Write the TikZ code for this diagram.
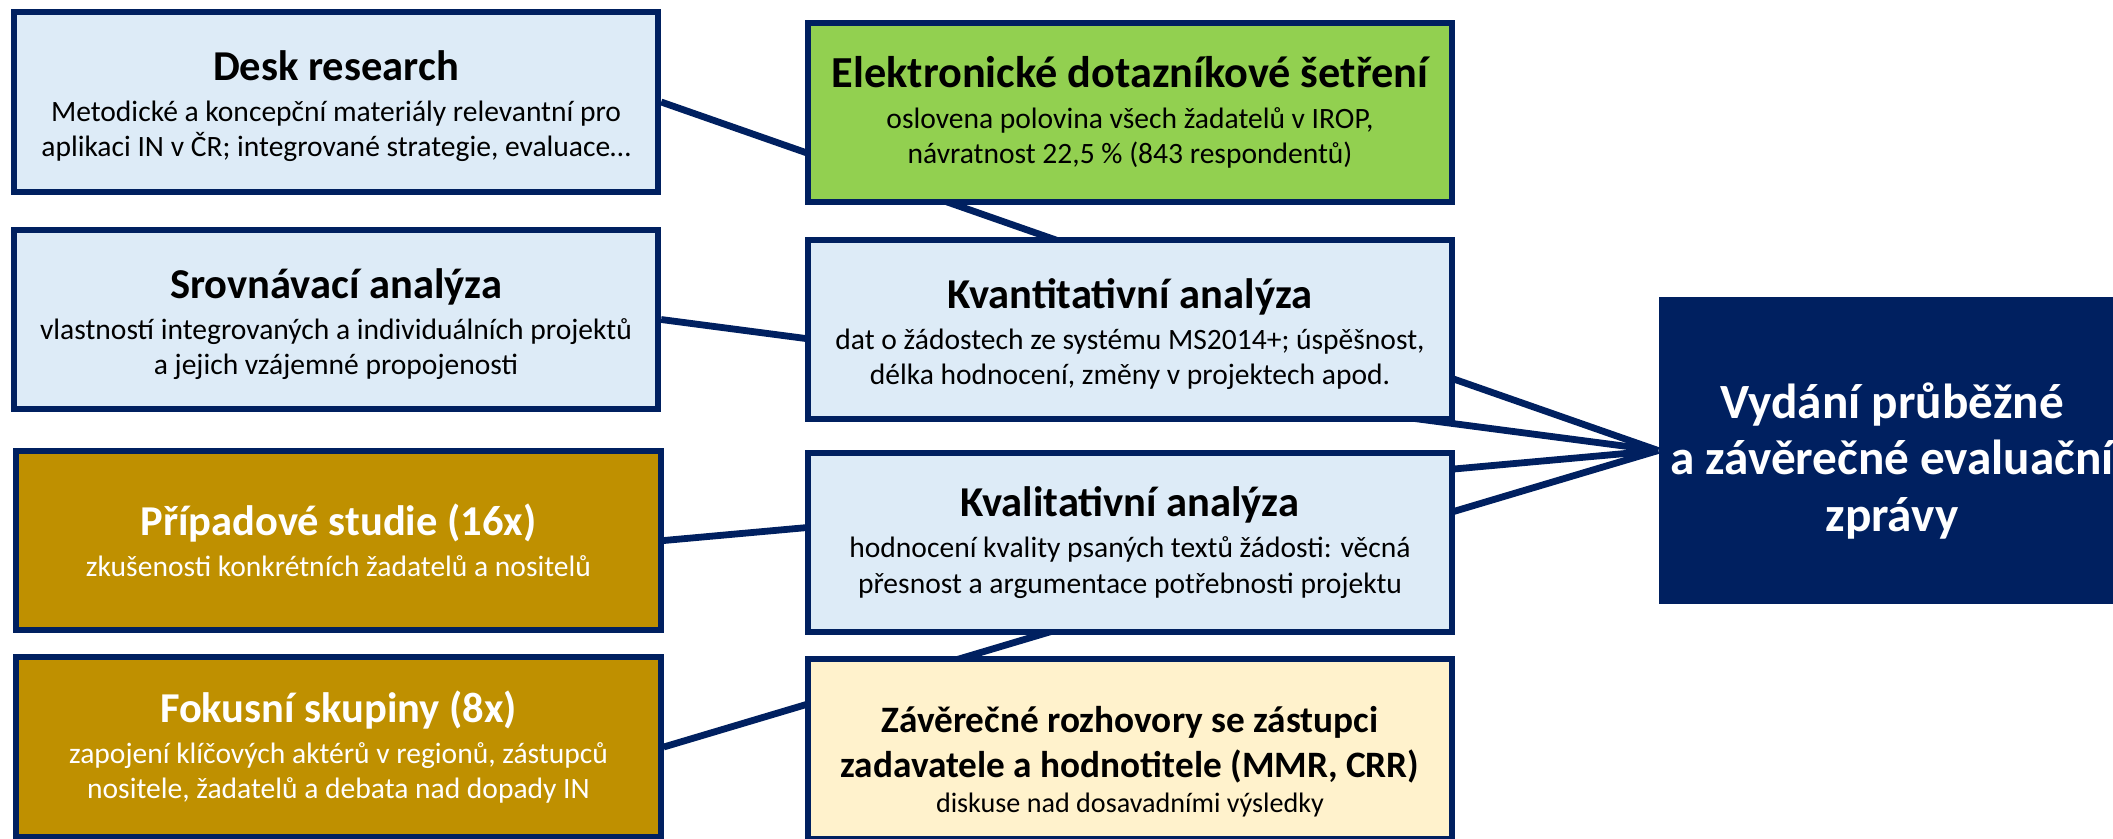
\documentclass[tikz,border=0pt]{standalone}
\usepackage{fontspec}
\setmainfont{Carlito}
\definecolor{navy}{HTML}{002060}
\definecolor{lblue}{HTML}{DDEBF7}
\definecolor{lgreen}{HTML}{92D050}
\definecolor{gold}{HTML}{BF9000}
\definecolor{lyellow}{HTML}{FFF2CC}
\newcommand{\boxtitle}[1]{{\fontsize{12.1}{14}\selectfont\bfseries #1}}
\newcommand{\bigtitle}[1]{{\fontsize{12.6}{14}\selectfont\bfseries #1}}
\newcommand{\subtitle}[1]{{\fontsize{10.6}{12.8}\selectfont\bfseries #1}}
\newcommand{\smallbody}[1]{{\fontsize{8}{10}\selectfont #1}}
\tikzset{
  box/.style={draw=navy, line width=0.06cm, align=center, inner sep=0pt,
    font=\fontsize{8.4}{10}\selectfont, minimum width=6.44cm, minimum height=1.79cm},
  bluebox/.style={box, fill=lblue, text=black},
  greenbox/.style={box, fill=lgreen, text=black},
  goldbox/.style={box, fill=gold, text=white},
  yellowbox/.style={box, fill=lyellow, text=black},
  finalbox/.style={fill=navy, text=white, align=center, inner sep=0pt,
    minimum width=4.66cm, minimum height=3.07cm,
    font=\fontsize{14}{16}\selectfont\bfseries},
  conn/.style={draw=navy, line width=0.068cm}
}
\begin{document}
\begin{tikzpicture}[x=0.01cm, y=-0.01cm]
\useasboundingbox (0,0) rectangle (2113,838);
\fill[white] (0,0) rectangle (2113,838);

% left column
\node[bluebox] (desk) at (336,102) {\rule{0pt}{11pt}\boxtitle{Desk research}\\[1.7pt]Metodické a koncepční materiály relevantní pro\\aplikaci IN v ČR; integrované strategie, evaluace…};
\node[bluebox] (srov) at (336,319.5) {\rule{0pt}{11pt}\boxtitle{Srovnávací analýza}\\[1.7pt]vlastností integrovaných a individuálních projektů\\a jejich vzájemné propojenosti};
\node[goldbox] (prip) at (338.5,540.5) {\boxtitle{Případové studie (16x)}\\[1.7pt]zkušenosti konkrétních žadatelů a nositelů};
\node[goldbox] (fok) at (338.5,747) {\boxtitle{Fokusní skupiny (8x)}\\[1.7pt]zapojení klíčových aktérů v regionů, zástupců\\nositele, žadatelů a debata nad dopady IN};

% final box
\node[finalbox] (vyd) at (1892,450.5) {\rule{0pt}{16pt}Vydání průběžné\\a závěrečné evaluační\\zprávy};

% connectors
\draw[conn] (desk.east) -- (vyd.west);
\draw[conn] (srov.east) -- (vyd.west);
\draw[conn] (prip.east) -- (vyd.west);
\draw[conn] (fok.east) -- (vyd.west);

% middle column
\node[greenbox] (elek) at (1130,112.5) {\bigtitle{Elektronické dotazníkové šetření}\\[1.7pt]oslovena polovina všech žadatelů v IROP,\\návratnost 22,5 \% (843 respondentů)};
\node[bluebox] (kvant) at (1130,329.5) {\rule{0pt}{11pt}\boxtitle{Kvantitativní analýza}\\[1.7pt]dat o žádostech ze systému MS2014+; úspěšnost,\\délka hodnocení, změny v projektech apod.};
\node[bluebox] (kval) at (1130,542.5) {\boxtitle{Kvalitativní analýza}\\[1.7pt]hodnocení kvality psaných textů žádosti: věcná\\přesnost a argumentace potřebnosti projektu};
\node[yellowbox] (zav) at (1130,749) {\rule{0pt}{14.5pt}\subtitle{Závěrečné rozhovory se zástupci}\\[2.8pt]\subtitle{zadavatele a hodnotitele (MMR, CRR)}\\\smallbody{diskuse nad dosavadními výsledky}};
\end{tikzpicture}
\end{document}
